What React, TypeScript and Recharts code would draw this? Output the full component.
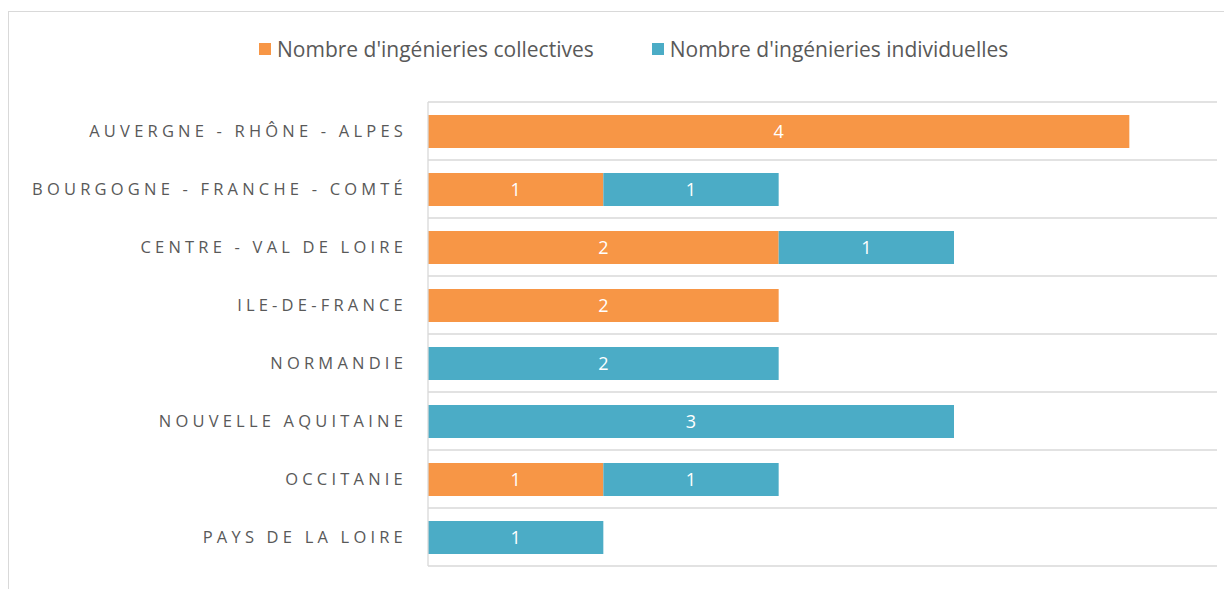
import { Bar, BarChart, CartesianGrid, LabelList, Legend, XAxis, YAxis } from 'recharts';

const regions = [
  'AUVERGNE - RHÔNE - ALPES',
  'BOURGOGNE - FRANCHE - COMTÉ',
  'CENTRE - VAL DE LOIRE',
  'ILE-DE-FRANCE',
  'NORMANDIE',
  'NOUVELLE AQUITAINE',
  'OCCITANIE',
  'PAYS DE LA LOIRE',
];
const collectives = [4, 1, 2, 2, 0, 0, 1, 0];
const individuelles = [0, 1, 1, 0, 2, 3, 1, 1];

const seriesNames = ["Nombre d'ingénieries collectives", "Nombre d'ingénieries individuelles"];
const ORANGE = '#F79646';
const BLUE = '#4BACC6';
const FONT = '"Open Sans", Lato, sans-serif';

const data = regions.map((region, i) => ({
  region,
  coll: collectives[i],
  ind: individuelles[i],
}));

const hideZero = (v: any) => (v ? v : '');

function LegendBox() {
  const items = [
    { name: seriesNames[0], color: ORANGE },
    { name: seriesNames[1], color: BLUE },
  ];
  return (
    <div style={{ display: 'flex', gap: 58, fontFamily: FONT, fontSize: 21, color: '#595959', whiteSpace: 'nowrap' }}>
      {items.map((it) => (
        <div key={it.name} style={{ display: 'flex', alignItems: 'center', gap: 6 }}>
          <span style={{ width: 12, height: 12, background: it.color, display: 'inline-block' }} />
          <span>{it.name}</span>
        </div>
      ))}
    </div>
  );
}

export default function App() {
  return (
    <div style={{ position: 'relative', width: 1224, height: 581, overflow: 'hidden', background: '#fff' }}>
      <div
        style={{
          position: 'absolute',
          left: 0,
          top: 3,
          width: 1400,
          height: 800,
          border: '1px solid #d9d9d9',
        }}
      />
      <div style={{ position: 'absolute', left: 0, top: 0 }}>
        <BarChart
          width={1224}
          height={581}
          data={data}
          layout="vertical"
          margin={{ top: 94, right: 15, bottom: 23, left: 0 }}
          barSize={33}
        >
          <CartesianGrid
            vertical={false}
            stroke="#d9d9d9"
            strokeWidth={1.3}
            horizontalCoordinatesGenerator={({ offset }: any) =>
              regions.concat('').map((_, i) => offset.top + (i * offset.height) / regions.length)
            }
          />
          <XAxis type="number" domain={[0, 4.5]} hide />
          <YAxis
            type="category"
            dataKey="region"
            width={420}
            axisLine={{ stroke: '#d9d9d9', strokeWidth: 1.3 }}
            tickLine={false}
            tickMargin={15}
            interval={0}
            tick={{ fill: '#595959', fontSize: 16.5, fontFamily: FONT, letterSpacing: 4.2 }}
          />
          <Legend
            verticalAlign="middle"
            align="center"
            wrapperStyle={{ top: 27, left: 251, width: 900 }}
            content={() => <LegendBox />}
          />
          <Bar dataKey="coll" name={seriesNames[0]} stackId="a" fill={ORANGE} isAnimationActive={false}>
            <LabelList
              dataKey="coll"
              position="center"
              formatter={hideZero}
              fill="#fff"
              fontSize={18}
              fontFamily={FONT}
            />
          </Bar>
          <Bar dataKey="ind" name={seriesNames[1]} stackId="a" fill={BLUE} isAnimationActive={false}>
            <LabelList
              dataKey="ind"
              position="center"
              formatter={hideZero}
              fill="#fff"
              fontSize={18}
              fontFamily={FONT}
            />
          </Bar>
        </BarChart>
      </div>
    </div>
  );
}
